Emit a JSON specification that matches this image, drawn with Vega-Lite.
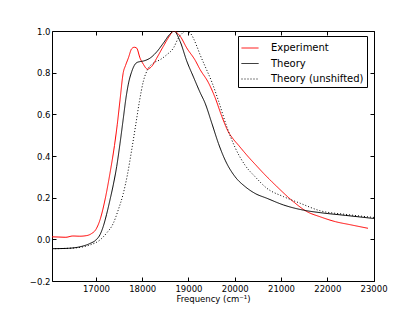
{
  "$schema": "https://vega.github.io/schema/vega-lite/v6.json",
  "width": 322,
  "height": 250,
  "autosize": "none",
  "padding": {"left": 52, "top": 31, "right": 41, "bottom": 32},
  "config": {
    "font": "DejaVu Sans",
    "view": {"stroke": "#000000", "strokeWidth": 1},
    "axis": {"domain": false, "grid": false, "labelFlush": false, "labelOverlap": false, "tickColor": "#000000", "tickSize": -4, "tickWidth": 1, "labelFont": "DejaVu Sans", "labelFontSize": 8.5, "labelColor": "#000000", "titleFont": "DejaVu Sans", "titleFontSize": 8.5, "titleFontWeight": "normal", "titleColor": "#000000"},
    "legend": {"orient": "none", "legendX": 186, "legendY": 5, "strokeColor": "#000000", "fillColor": "#ffffff", "padding": 3, "symbolType": "stroke", "symbolSize": 289, "symbolStrokeWidth": 1, "labelFontSize": 10, "labelFont": "DejaVu Sans", "labelColor": "#000000", "labelOffset": 12, "rowPadding": 1.5, "cornerRadius": 0}
  },
  "data": {"values": [
    {"s": "Experiment", "f": 16050, "v": 0.012},
    {"s": "Experiment", "f": 16200, "v": 0.011},
    {"s": "Experiment", "f": 16350, "v": 0.010},
    {"s": "Experiment", "f": 16500, "v": 0.016},
    {"s": "Experiment", "f": 16650, "v": 0.015},
    {"s": "Experiment", "f": 16800, "v": 0.018},
    {"s": "Experiment", "f": 16900, "v": 0.027},
    {"s": "Experiment", "f": 17000, "v": 0.048},
    {"s": "Experiment", "f": 17087, "v": 0.093},
    {"s": "Experiment", "f": 17195, "v": 0.189},
    {"s": "Experiment", "f": 17303, "v": 0.317},
    {"s": "Experiment", "f": 17400, "v": 0.45},
    {"s": "Experiment", "f": 17460, "v": 0.55},
    {"s": "Experiment", "f": 17520, "v": 0.668},
    {"s": "Experiment", "f": 17590, "v": 0.80},
    {"s": "Experiment", "f": 17640, "v": 0.835},
    {"s": "Experiment", "f": 17700, "v": 0.87},
    {"s": "Experiment", "f": 17773, "v": 0.915},
    {"s": "Experiment", "f": 17830, "v": 0.922},
    {"s": "Experiment", "f": 17880, "v": 0.918},
    {"s": "Experiment", "f": 17953, "v": 0.87},
    {"s": "Experiment", "f": 18026, "v": 0.84},
    {"s": "Experiment", "f": 18110, "v": 0.817},
    {"s": "Experiment", "f": 18205, "v": 0.83},
    {"s": "Experiment", "f": 18314, "v": 0.87},
    {"s": "Experiment", "f": 18458, "v": 0.927},
    {"s": "Experiment", "f": 18602, "v": 0.98},
    {"s": "Experiment", "f": 18674, "v": 1.0},
    {"s": "Experiment", "f": 18819, "v": 0.975},
    {"s": "Experiment", "f": 18964, "v": 0.918},
    {"s": "Experiment", "f": 19143, "v": 0.86},
    {"s": "Experiment", "f": 19251, "v": 0.815},
    {"s": "Experiment", "f": 19431, "v": 0.752},
    {"s": "Experiment", "f": 19576, "v": 0.68},
    {"s": "Experiment", "f": 19721, "v": 0.59},
    {"s": "Experiment", "f": 19864, "v": 0.515},
    {"s": "Experiment", "f": 19972, "v": 0.48},
    {"s": "Experiment", "f": 20080, "v": 0.452},
    {"s": "Experiment", "f": 20200, "v": 0.42},
    {"s": "Experiment", "f": 20297, "v": 0.395},
    {"s": "Experiment", "f": 20442, "v": 0.36},
    {"s": "Experiment", "f": 20622, "v": 0.317},
    {"s": "Experiment", "f": 20912, "v": 0.253},
    {"s": "Experiment", "f": 21271, "v": 0.18},
    {"s": "Experiment", "f": 21561, "v": 0.133},
    {"s": "Experiment", "f": 21849, "v": 0.108},
    {"s": "Experiment", "f": 22174, "v": 0.085},
    {"s": "Experiment", "f": 22500, "v": 0.07},
    {"s": "Experiment", "f": 22880, "v": 0.053},
    {"s": "Theory", "f": 16050, "v": -0.045},
    {"s": "Theory", "f": 16400, "v": -0.043},
    {"s": "Theory", "f": 16650, "v": -0.036},
    {"s": "Theory", "f": 16870, "v": -0.02},
    {"s": "Theory", "f": 17000, "v": -0.003},
    {"s": "Theory", "f": 17087, "v": 0.022},
    {"s": "Theory", "f": 17158, "v": 0.062},
    {"s": "Theory", "f": 17230, "v": 0.12},
    {"s": "Theory", "f": 17303, "v": 0.189},
    {"s": "Theory", "f": 17375, "v": 0.262},
    {"s": "Theory", "f": 17448, "v": 0.349},
    {"s": "Theory", "f": 17520, "v": 0.46},
    {"s": "Theory", "f": 17591, "v": 0.58},
    {"s": "Theory", "f": 17650, "v": 0.68},
    {"s": "Theory", "f": 17700, "v": 0.745},
    {"s": "Theory", "f": 17773, "v": 0.805},
    {"s": "Theory", "f": 17830, "v": 0.835},
    {"s": "Theory", "f": 17880, "v": 0.848},
    {"s": "Theory", "f": 17950, "v": 0.853},
    {"s": "Theory", "f": 18026, "v": 0.856},
    {"s": "Theory", "f": 18170, "v": 0.87},
    {"s": "Theory", "f": 18314, "v": 0.90},
    {"s": "Theory", "f": 18458, "v": 0.942},
    {"s": "Theory", "f": 18600, "v": 0.985},
    {"s": "Theory", "f": 18688, "v": 1.0},
    {"s": "Theory", "f": 18819, "v": 0.95},
    {"s": "Theory", "f": 18964, "v": 0.855},
    {"s": "Theory", "f": 19106, "v": 0.78},
    {"s": "Theory", "f": 19251, "v": 0.705},
    {"s": "Theory", "f": 19360, "v": 0.653},
    {"s": "Theory", "f": 19505, "v": 0.557},
    {"s": "Theory", "f": 19648, "v": 0.46},
    {"s": "Theory", "f": 19793, "v": 0.38},
    {"s": "Theory", "f": 20009, "v": 0.30},
    {"s": "Theory", "f": 20225, "v": 0.253},
    {"s": "Theory", "f": 20442, "v": 0.22},
    {"s": "Theory", "f": 20695, "v": 0.197},
    {"s": "Theory", "f": 21054, "v": 0.165},
    {"s": "Theory", "f": 21487, "v": 0.14},
    {"s": "Theory", "f": 21849, "v": 0.128},
    {"s": "Theory", "f": 22390, "v": 0.115},
    {"s": "Theory", "f": 23010, "v": 0.1},
    {"s": "Theory (unshifted)", "f": 16050, "v": -0.045},
    {"s": "Theory (unshifted)", "f": 16500, "v": -0.042},
    {"s": "Theory (unshifted)", "f": 16870, "v": -0.027},
    {"s": "Theory (unshifted)", "f": 17087, "v": -0.003},
    {"s": "Theory (unshifted)", "f": 17230, "v": 0.03},
    {"s": "Theory (unshifted)", "f": 17375, "v": 0.077},
    {"s": "Theory (unshifted)", "f": 17480, "v": 0.14},
    {"s": "Theory (unshifted)", "f": 17591, "v": 0.22},
    {"s": "Theory (unshifted)", "f": 17680, "v": 0.31},
    {"s": "Theory (unshifted)", "f": 17773, "v": 0.43},
    {"s": "Theory (unshifted)", "f": 17860, "v": 0.55},
    {"s": "Theory (unshifted)", "f": 17938, "v": 0.66},
    {"s": "Theory (unshifted)", "f": 18026, "v": 0.76},
    {"s": "Theory (unshifted)", "f": 18130, "v": 0.82},
    {"s": "Theory (unshifted)", "f": 18242, "v": 0.846},
    {"s": "Theory (unshifted)", "f": 18386, "v": 0.862},
    {"s": "Theory (unshifted)", "f": 18530, "v": 0.886},
    {"s": "Theory (unshifted)", "f": 18674, "v": 0.918},
    {"s": "Theory (unshifted)", "f": 18782, "v": 0.966},
    {"s": "Theory (unshifted)", "f": 18870, "v": 0.99},
    {"s": "Theory (unshifted)", "f": 18927, "v": 1.0},
    {"s": "Theory (unshifted)", "f": 19035, "v": 0.99},
    {"s": "Theory (unshifted)", "f": 19180, "v": 0.927},
    {"s": "Theory (unshifted)", "f": 19251, "v": 0.886},
    {"s": "Theory (unshifted)", "f": 19360, "v": 0.83},
    {"s": "Theory (unshifted)", "f": 19505, "v": 0.755},
    {"s": "Theory (unshifted)", "f": 19648, "v": 0.665},
    {"s": "Theory (unshifted)", "f": 19829, "v": 0.54},
    {"s": "Theory (unshifted)", "f": 20009, "v": 0.44},
    {"s": "Theory (unshifted)", "f": 20225, "v": 0.355},
    {"s": "Theory (unshifted)", "f": 20442, "v": 0.30},
    {"s": "Theory (unshifted)", "f": 20695, "v": 0.245},
    {"s": "Theory (unshifted)", "f": 21054, "v": 0.205},
    {"s": "Theory (unshifted)", "f": 21416, "v": 0.173},
    {"s": "Theory (unshifted)", "f": 21849, "v": 0.137},
    {"s": "Theory (unshifted)", "f": 22390, "v": 0.12},
    {"s": "Theory (unshifted)", "f": 23010, "v": 0.105}
  ]},
  "layer": [
    {
      "mark": {"type": "line", "strokeWidth": 1, "interpolate": "monotone", "clip": true},
      "encoding": {
        "x": {"field": "f", "type": "quantitative", "scale": {"domain": [16050, 23010], "nice": false, "zero": false},
              "axis": {"values": [17000, 18000, 19000, 20000, 21000, 22000, 23000], "format": "d", "title": "Frequency (cm⁻¹)", "labelPadding": 7, "titlePadding": 2}},
        "y": {"field": "v", "type": "quantitative", "scale": {"domain": [-0.2, 1.0], "nice": false, "zero": false},
              "axis": {"values": [-0.2, 0, 0.2, 0.4, 0.6, 0.8, 1.0], "format": ".1f", "title": null, "labelPadding": 6}},
        "color": {"field": "s", "type": "nominal",
                  "scale": {"domain": ["Experiment", "Theory", "Theory (unshifted)"], "range": ["#ff0000", "#000000", "#000000"]},
                  "legend": {"title": null}},
        "strokeDash": {"field": "s", "type": "nominal",
                  "scale": {"domain": ["Experiment", "Theory", "Theory (unshifted)"], "range": [[1, 0], [1, 0], [1, 2]]},
                  "legend": {"title": null}}
      }
    },
    {
      "mark": {"type": "line", "opacity": 0},
      "encoding": {
        "x": {"field": "f", "type": "quantitative", "axis": {"orient": "top", "labels": false, "title": null, "values": [17000, 18000, 19000, 20000, 21000, 22000, 23000]}},
        "y": {"field": "v", "type": "quantitative", "axis": {"orient": "right", "labels": false, "title": null, "values": [-0.2, 0, 0.2, 0.4, 0.6, 0.8, 1.0]}},
        "detail": {"field": "s"}
      }
    }
  ],
  "resolve": {"axis": {"x": "independent", "y": "independent"}}
}
